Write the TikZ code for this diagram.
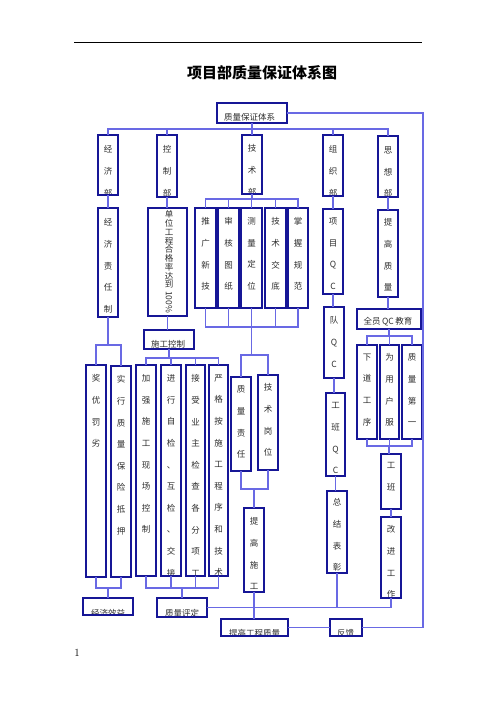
\documentclass[tikz,border=0pt]{standalone}
\usepackage{fontspec}
\newfontfamily\cjk{Noto Sans CJK SC}
\usetikzlibrary{calc}

\definecolor{boxblue}{RGB}{22,22,150}
\definecolor{linkblue}{RGB}{105,105,228}
\definecolor{inkgray}{RGB}{45,45,45}

\tikzset{
  box/.style={draw=boxblue, line width=1.2pt, rectangle, inner sep=0pt, outer sep=0pt},
  link/.style={draw=linkblue, line width=1.3pt},
  coltext/.style={draw=none, fill=none, inner sep=0pt, minimum size=0pt, text=inkgray,
    align=center, font=\cjk\fontsize{8.5}{21.6}\selectfont},
  rowtext/.style={draw=none, fill=none, inner sep=0pt, minimum size=0pt, text=inkgray,
    anchor=center, font=\cjk\fontsize{8.5}{10}\selectfont},
}

% upright box with stacked characters, clipped to the frame
% #1 name, #2 x1, #3 y1, #4 x2, #5 y2, #6 centre y of first character, #7 text
\newcommand\colbox[7]{%
  \node[box, anchor=north west, minimum width={#4-#2}, minimum height={#5-#3},
    path picture={\node[coltext, anchor=north] at ([yshift={-(#6-#3-4.3)}]path picture bounding box.north) {#7};}]
    (#1) at (#2,#3) {};}

% flat box with one line of text, clipped to the frame
% #1 name, #2 x1, #3 y1, #4 x2, #5 y2, #6 text centre x, #7 text centre y, #8 text
\newcommand\rowbox[8]{%
  \node[box, anchor=north west, minimum width={#4-#2}, minimum height={#5-#3},
    path picture={\node[rowtext] at ([xshift={#6-(#2+#4)/2}, yshift={-(#7-#3)}]path picture bounding box.north) {#8};}]
    (#1) at (#2,#3) {};}

\begin{document}
\begin{tikzpicture}[x=1pt, y=-1pt]
\useasboundingbox (0,0) rectangle (496,702);

% header rule and title
\coordinate (ruleL) at (74,42);
\coordinate (ruleR) at (422,42);
\draw[line width=0.8pt] (ruleL) -- (ruleR);
\node[font=\cjk\bfseries\fontsize{15}{15}\selectfont] (title) at (262,73) {项目部质量保证体系图};

% top level
\rowbox{qa}{217}{103}{287}{123}{249.5}{117.5}{质量保证体系}
\colbox{eco}{98}{135}{118}{195}{150}{经\\济\\部}
\colbox{ctl}{157}{135}{177}{197}{150}{控\\制\\部}
\colbox{tec}{242}{135}{262}{194}{149}{技\\术\\部}
\colbox{org}{323}{135}{343}{196}{150}{组\\织\\部}
\colbox{ide}{378}{136}{398}{197}{151}{思\\想\\部}

% economy branch
\colbox{ecoresp}{98}{208}{118}{317}{223}{经\\济\\责\\任\\制}
\colbox{jiang}{86}{365}{106}{577}{379}{奖\\优\\罚\\劣}
\colbox{shix}{111}{366}{131}{577}{380}{实\\行\\质\\量\\保\\险\\抵\\押}
\rowbox{econ}{83}{598}{133}{615}{108}{613.5}{经济效益}

% control branch
\node[box, anchor=north west, minimum width=39, minimum height=108,
  path picture={
    \node[coltext, font=\cjk\fontsize{8.5}{8.75}\selectfont, anchor=north]
      at ([xshift=1.5pt, yshift=-2.7pt]path picture bounding box.north) {单\\位\\工\\程\\合\\格\\率\\达\\到};
    \node[rowtext, rotate=-90] at ([xshift=1.5pt, yshift=-94pt]path picture bounding box.north) {100\%};
  }] (rate) at (148,208) {};
\rowbox{ctrl}{144}{330}{194}{349}{168}{344.5}{施工控制}
\colbox{site}{136}{365}{156}{576}{379}{加\\强\\施\\工\\现\\场\\控\\制}
\colbox{self}{161}{365}{181}{576}{379}{进\\行\\自\\检\\、\\互\\检\\、\\交\\接}
\colbox{owner}{186}{365}{205}{576}{379}{接\\受\\业\\主\\检\\查\\各\\分\\项\\工}
\colbox{strict}{209}{365}{228}{576}{379}{严\\格\\按\\施\\工\\程\\序\\和\\技\\术}
\rowbox{eval}{157}{598}{207}{617}{182}{613.5}{质量评定}

% technical branch
\colbox{tui}{195}{208}{216}{308}{222}{推\\广\\新\\技}
\colbox{shen}{218}{208}{239}{308}{222}{审\\核\\图\\纸}
\colbox{mea}{241}{208}{262}{308}{222}{测\\量\\定\\位}
\colbox{jd}{265}{208}{286}{308}{222}{技\\术\\交\\底}
\colbox{zw}{288}{208}{308}{308}{222}{掌\\握\\规\\范}
\colbox{qresp}{231}{377}{251}{471}{390}{质\\量\\责\\任}
\colbox{tpost}{258}{375}{278}{470}{388}{技\\术\\岗\\位}
\colbox{tg2}{244}{508}{264}{592}{522}{提\\高\\施\\工}
\rowbox{better}{221}{619}{288}{636}{254.5}{633}{提高工程质量}
\rowbox{fb}{330}{619}{362}{636}{345.5}{633}{反馈}

% organisation branch
\colbox{proj}{323}{209}{343}{294}{222}{项\\目\\Q\\C}
\colbox{team}{324}{307}{344}{378}{321}{队\\Q\\C}
\colbox{gbqc}{326}{393}{345}{476}{407}{工\\班\\Q\\C}
\colbox{summ}{327}{491}{347}{573}{503}{总\\结\\表\\彰}

% ideology branch
\colbox{raise}{378}{210}{398}{297}{223}{提\\高\\质\\量}
\rowbox{edu}{357}{309}{421}{329}{388}{322}{全员\,QC\,教育}
\colbox{next}{357}{345}{377}{439}{358}{下\\道\\工\\序}
\colbox{user}{380}{345}{399}{439}{358}{为\\用\\户\\服}
\colbox{first}{402}{345}{422}{439}{358}{质\\量\\第\\一}
\colbox{crew}{381}{454}{401}{509}{467}{工\\班}
\colbox{impr}{381}{517}{401}{598}{530}{改\\进\\工\\作}

% ---- connectors ----
\coordinate (b0) at (252,129);
\draw[link] (qa.south) -- (qa.south |- b0);
\draw[link] (eco.north) |- (b0) -| (ide.north);
\draw[link] (ctl.north) -- (ctl.north |- b0);
\draw[link] (tec.north) -- (tec.north |- b0);
\draw[link] (org.north) -- (org.north |- b0);

% feedback loop on the right
\coordinate (rt) at (423,112);
\draw[link] (qa.east) -| (rt |- fb.east) -- (fb.east);
\draw[link] (better.east) -- (fb.west);

% economy
\coordinate (b1) at (108,345);
\coordinate (b2) at (108,588);
\draw[link] (eco.south) -- (ecoresp.north);
\draw[link] (ecoresp.south) -- (b1);
\draw[link] (jiang.north) |- (b1) -| (shix.north);
\draw[link] (jiang.south) |- (b2) -| (shix.south);
\draw[link] (b2) -- (econ.north);

% control
\coordinate (b3) at (169,358);
\coordinate (b4) at (182,588);
\draw[link] (ctl.south) -- (ctl.south |- rate.north);
\draw[link] (rate.south) -- (rate.south |- ctrl.north);
\draw[link] (ctrl.south) -- (b3);
\draw[link] (site.north) |- (b3) -| (strict.north);
\draw[link] (self.north) -- (self.north |- b3);
\draw[link] (owner.north) -- (owner.north |- b3);
\draw[link] (site.south) |- (b4) -| (strict.south);
\draw[link] (self.south) -- (self.south |- b4);
\draw[link] (owner.south) -- (owner.south |- b4);
\draw[link] (b4) -- (eval.north);

% technical
\coordinate (b5) at (252,199);
\coordinate (b6) at (252,327);
\coordinate (b7) at (252,355);
\coordinate (b8) at (254,489);
\draw[link] (tec.south) -- (b5);
\draw[link] (tui.north) |- (b5) -| (zw.north);
\draw[link] (shen.north) -- (shen.north |- b5);
\draw[link] (mea.north) -- (mea.north |- b5);
\draw[link] (jd.north) -- (jd.north |- b5);
\draw[link] (tui.south) |- (b6) -| (zw.south);
\draw[link] (shen.south) -- (shen.south |- b6);
\draw[link] (jd.south) -- (jd.south |- b6);
\draw[link] (mea.south) -- (mea.south |- b7);
\draw[link] (qresp.north) |- (b7) -| (tpost.north);
\draw[link] (qresp.south) |- (b8) -| (tpost.south);
\draw[link] (b8) -- (tg2.north);
\draw[link] (tg2.south) -- (tg2.south |- better.north);

% lower collecting line
\draw[link] (eval.east) -| (impr.south);
\draw[link] (summ.south) -- (summ.south |- eval.east);

% organisation
\draw[link] (org.south) -- (org.south |- proj.north);
\draw[link] (proj.south) -- (proj.south |- team.north);
\draw[link] (team.south) -- (team.south |- gbqc.north);
\draw[link] (gbqc.south) -- (gbqc.south |- summ.north);

% ideology
\coordinate (b10) at (389,336);
\coordinate (b11) at (389,446);
\draw[link] (ide.south) -- (raise.north);
\draw[link] (raise.south) -- (raise.south |- edu.north);
\draw[link] (edu.south) -- (b10);
\draw[link] (next.north) |- (b10) -| (first.north);
\draw[link] (user.north) -- (user.north |- b10);
\draw[link] (next.south) |- (b11) -| (first.south);
\draw[link] (user.south) -- (user.south |- b11);
\draw[link] (b11) -- (b11 |- crew.north);
\draw[link] (crew.south) -- (impr.north);

% page number
\node[font=\fontsize{11}{11}\selectfont] (pageno) at (77,653) {1};
\end{tikzpicture}
\end{document}
